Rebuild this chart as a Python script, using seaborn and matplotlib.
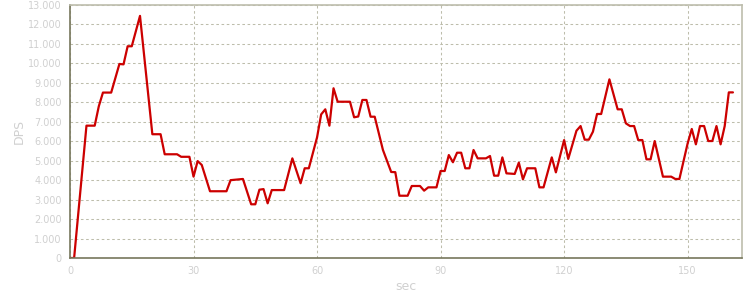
import matplotlib
matplotlib.use("Agg")
import matplotlib.pyplot as plt
from matplotlib.ticker import FuncFormatter, MultipleLocator
import seaborn as sns
import pandas as pd

sec = [0, 1, 4, 6, 7, 8, 10, 12, 13, 14, 15, 17, 20, 22, 23, 26, 27, 29, 30, 31, 32,
       34, 38, 39, 42, 44, 45, 46, 47, 48, 49, 52, 54, 56, 57, 58, 60, 61, 62, 63, 64,
       65, 68, 69, 70, 71, 72, 73, 74, 76, 78, 79, 80, 82, 83, 85, 86, 87, 89, 90, 91,
       92, 93, 94, 95, 96, 97, 98, 99, 101, 102, 103, 104, 105, 106, 108, 109, 110, 111,
       113, 114, 115, 117, 118, 120, 121, 123, 124, 125, 126, 127, 128, 129, 131, 133,
       134, 135, 136, 137, 138, 139, 140, 141, 142, 144, 146, 147, 148, 150, 151, 152,
       153, 154, 155, 156, 157, 158, 159, 160, 161]
dps = [0, 0, 6800, 6800, 7800, 8500, 8500, 9970, 9950, 10880, 10880, 12440, 6360, 6360,
       5330, 5330, 5200, 5200, 4180, 4980, 4780, 3430, 3430, 4000, 4060, 2760, 2760, 3510,
       3540, 2810, 3490, 3490, 5120, 3840, 4610, 4610, 6200, 7380, 7640, 6800, 8720, 8030,
       8030, 7230, 7270, 8120, 8120, 7260, 7260, 5550, 4420, 4410, 3200, 3200, 3700, 3700,
       3460, 3630, 3630, 4470, 4470, 5290, 4920, 5410, 5410, 4610, 4610, 5550, 5120, 5120,
       5240, 4230, 4230, 5170, 4350, 4320, 4900, 4040, 4610, 4610, 3630, 3630, 5170, 4400,
       6060, 5090, 6540, 6780, 6080, 6080, 6490, 7400, 7400, 9180, 7640, 7640, 6920, 6780,
       6780, 6060, 6060, 5070, 5070, 6010, 4180, 4180, 4060, 4060, 5890, 6630, 5840, 6780,
       6780, 6010, 6010, 6780, 5840, 6780, 8510, 8510]

df = pd.DataFrame({"sec": sec, "DPS": dps})

sns.set_style("white")
plt.rcParams["font.family"] = ["DejaVu Sans"]

fig = plt.figure(figsize=(7.5, 3.0), dpi=100)
ax = fig.add_axes([70 / 750, 1 - 258 / 300, 672 / 750, 253 / 300])

sns.lineplot(data=df, x="sec", y="DPS", ax=ax, color="#cc0000", linewidth=1.6)

ax.set_xlim(0, 163.2)
ax.set_ylim(0, 13000)
ax.xaxis.set_major_locator(MultipleLocator(30))
ax.yaxis.set_major_locator(MultipleLocator(1000))
ax.yaxis.set_major_formatter(FuncFormatter(lambda v, p: f"{int(v):,}".replace(",", ".")))

grid_c = "#bdbdab"
ax.grid(True, color=grid_c, linestyle=(0, (2.5, 2.5)), linewidth=0.75)
ax.set_axisbelow(True)

for s in ["left", "bottom"]:
    ax.spines[s].set_color("#77775c")
    ax.spines[s].set_linewidth(1.2)
for s in ["top", "right"]:
    ax.spines[s].set_color("#bdbdad")
    ax.spines[s].set_linewidth(1.2)

label_c = "#d0d0d0"
ax.tick_params(axis="both", colors="#77775c", labelcolor=label_c, labelsize=7,
               length=3, width=0.8, direction="out", pad=3)
ax.set_xlabel("sec", color=label_c, fontsize=9)
ax.set_ylabel("DPS", color=label_c, fontsize=9)
ax.xaxis.set_label_coords(0.5, -0.111)
ax.yaxis.set_label_coords(-0.076, 0.5)
ax.xaxis.label.set_va("center")
ax.yaxis.label.set_va("center")

fig.savefig("out.png", dpi=100)
